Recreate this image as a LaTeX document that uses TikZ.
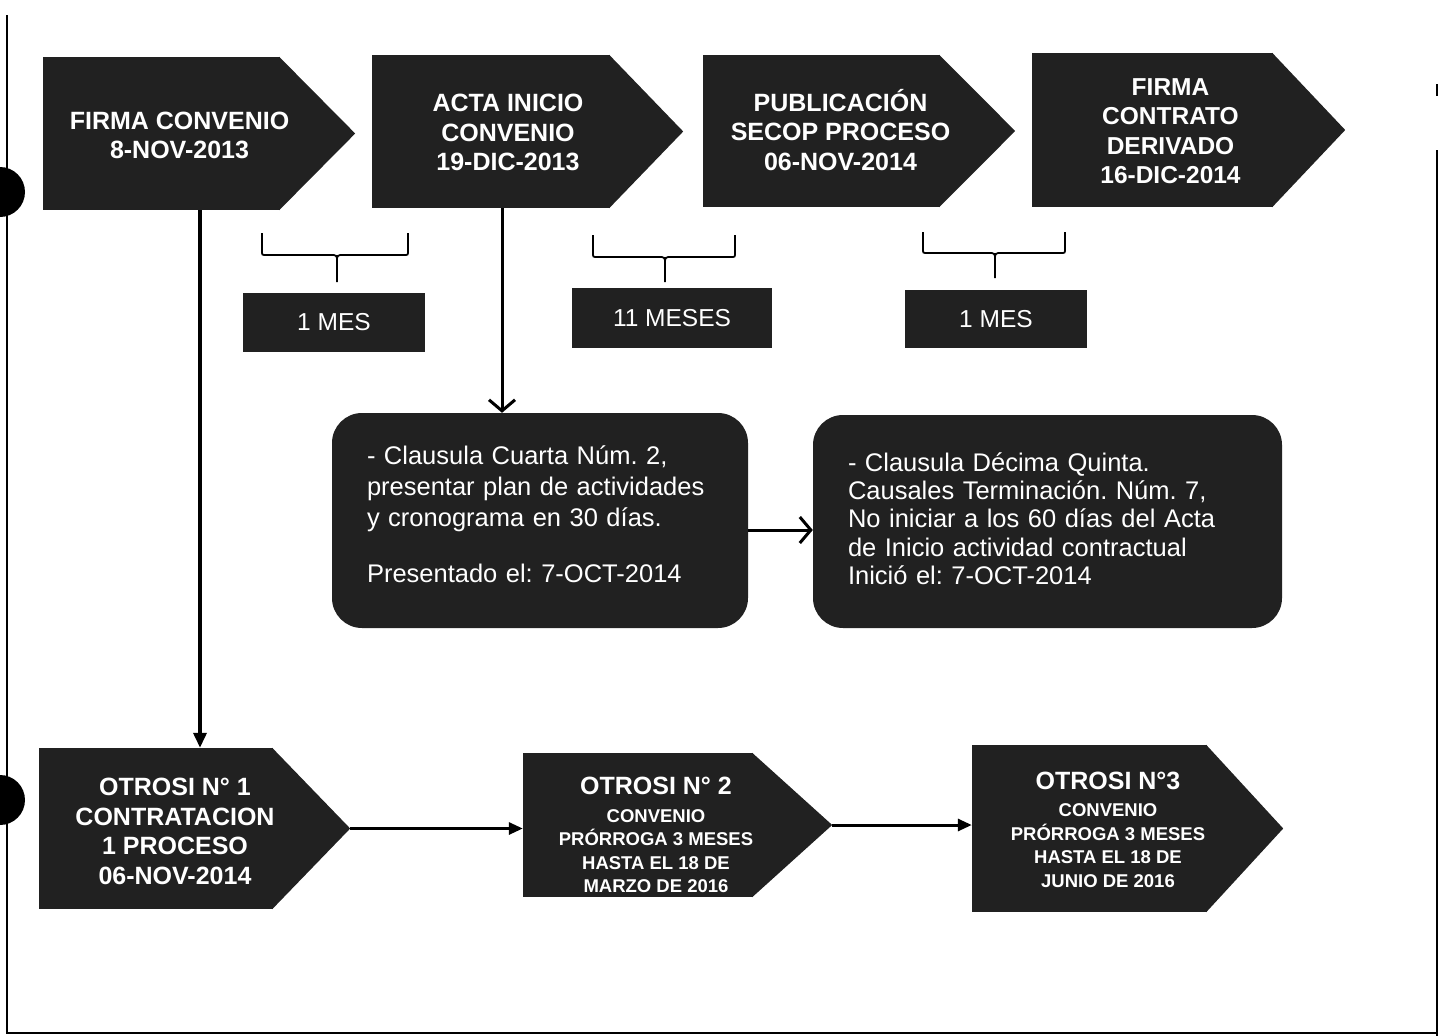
\documentclass[tikz,border=0pt]{standalone}
\usepackage{fontspec}
\setmainfont{Liberation Sans}
\usetikzlibrary{arrows.meta,calc}
\definecolor{boxgray}{gray}{0.13}
\frenchspacing
\begin{document}
\begin{tikzpicture}[x=1pt,y=-1pt,
  body/.style={fill=boxgray, draw=none, inner sep=0pt},
  btxt/.style={text=white, align=center, inner sep=0pt, font=\bfseries\fontsize{25}{29.5}\selectfont},
  stxt/.style={text=white, align=center, inner sep=0pt, font=\bfseries\fontsize{18.5}{23.5}\selectfont},
  mes/.style={fill=boxgray, inner sep=0pt, text=white, font=\fontsize{24.5}{28}\selectfont},
  rbox/.style={fill=boxgray, rounded corners=30pt, inner sep=0pt},
  rtxt/.style={text=white, align=left, inner sep=0pt},
  frame/.style={line width=1.6pt},
  brace/.style={line width=1.8pt},
  solidarrow/.style={line width=3.5pt, -{Triangle[length=15pt,width=13pt]}},
  flatarrow/.style={line width=3pt, -{Triangle[length=14pt,width=12pt]}},
  openarrow/.style={line width=3pt, -{Straight Barb[length=11pt,width=26pt,line width=3pt]}}
]
\useasboundingbox (0,0) rectangle (1438,1036);

% frame remnants
\draw[frame] (7,15) -- (7,1033) -- (1437,1033);
\draw[frame] (1437,150) -- (1437,1036);
\draw[frame] (1437,84) -- (1437,96);
\fill[black] (0,192) circle (25);
\fill[black] (0,800) circle (25);

% top row bodies
\node[body, minimum width=237, minimum height=153] (n1) at (161.5,133.5) {};
\node[body, minimum width=238, minimum height=153] (n2) at (491,131.5) {};
\node[body, minimum width=237, minimum height=152] (n3) at (821.5,131) {};
\node[body, minimum width=241, minimum height=154] (n4) at (1152.5,130) {};
\foreach \n/\t in {n1/75, n2/73, n3/75, n4/72}{
  \fill[boxgray] ([xshift=-1pt]\n.north east) -- ($(\n.east)+(\t,0)$) -- ([xshift=-1pt]\n.south east) -- cycle;
}
\node[btxt] (t1) at ($(n1.center)+(18,2)$) {FIRMA CONVENIO\\8-NOV-2013};
\node[btxt] (t2) at ($(n2.center)+(17,1)$) {ACTA INICIO\\CONVENIO\\19-DIC-2013};
\node[btxt] (t3) at ($(n3.center)+(19,-1)$) {PUBLICACIÓN\\SECOP PROCESO\\06-NOV-2014};
\node[btxt, font=\bfseries\fontsize{24.5}{29.5}\selectfont] (t4) at ($(n4.center)+(18,1)$) {FIRMA\\CONTRATO\\DERIVADO\\16-DIC-2014};

% braces
\draw[brace] (262,233) -- (262,251) .. controls (262,255) .. (266,255) -- (330,255) .. controls (337,255) .. (337,262) -- (337,282);
\draw[brace] (408,233) -- (408,251) .. controls (408,255) .. (404,255) -- (344,255) .. controls (337,255) .. (337,262);
\draw[brace] (593,235) -- (593,253) .. controls (593,257) .. (597,257) -- (658,257) .. controls (665,257) .. (665,264) -- (665,282);
\draw[brace] (735,235) -- (735,253) .. controls (735,257) .. (731,257) -- (672,257) .. controls (665,257) .. (665,264);
\draw[brace] (923,232) -- (923,249) .. controls (923,253) .. (927,253) -- (988,253) .. controls (995,253) .. (995,260) -- (995,278);
\draw[brace] (1065,232) -- (1065,249) .. controls (1065,253) .. (1061,253) -- (1002,253) .. controls (995,253) .. (995,260);

% duration boxes
\node[mes, minimum width=182, minimum height=59] (m1) at (334,322.5) {1 MES};
\node[mes, minimum width=200, minimum height=60] (m2) at (672,318) {11 MESES};
\node[mes, minimum width=182, minimum height=58] (m3) at (996,319) {1 MES};

% rounded boxes
\node[rbox, minimum width=416, minimum height=215] (A) at (540,520.5) {};
\node[rtxt, text width=346, font=\fontsize{25.5}{31}\selectfont] (At) at ($(A.center)+(0,-6)$)
  {- Clausula Cuarta Núm. 2,\\presentar plan de actividades\\y cronograma en 30 días.\\[25pt]Presentado el: 7-OCT-2014};
\node[rbox, minimum width=469, minimum height=213] (B) at (1047.5,521.5) {};
\node[rtxt, text width=399, font=\fontsize{25.5}{28.3}\selectfont] (Bt) at ($(B.center)+(0,-3)$)
  {- Clausula Décima Quinta.\\Causales Terminación. Núm. 7,\\No iniciar a los 60 días del Acta\\de Inicio actividad contractual\\Inició el: 7-OCT-2014};

% bottom row bodies
\node[body, minimum width=234, minimum height=161] (o1) at (156,828.5) {};
\node[body, minimum width=230, minimum height=144] (o2) at (638,825) {};
\node[body, minimum width=235, minimum height=167] (o3) at (1089.5,828.5) {};
\foreach \n/\t in {o1/77, o2/79, o3/76}{
  \fill[boxgray] ([xshift=-1pt]\n.north east) -- ($(\n.east)+(\t,0)$) -- ([xshift=-1pt]\n.south east) -- cycle;
}
\coordinate (o1tip) at ($(o1.east)+(77,0)$);
\coordinate (o2tip) at ($(o2.east)+(79,0)$);
\node[btxt] (u1) at ($(o1.center)+(19,3)$) {OTROSI N° 1\\CONTRATACION\\1 PROCESO\\06-NOV-2014};
\node[stxt] (u2) at ($(o2.center)+(18,10)$) {{\fontsize{25}{25}\selectfont OTROSI N° 2}\\[4pt]CONVENIO\\PRÓRROGA 3 MESES\\HASTA EL 18 DE\\MARZO DE 2016};
\node[stxt] (u3) at ($(o3.center)+(18.5,1)$) {{\fontsize{25}{25}\selectfont OTROSI N°3}\\[4pt]CONVENIO\\PRÓRROGA 3 MESES\\HASTA EL 18 DE\\JUNIO DE 2016};

% connectors
\draw[solidarrow] ([xshift=38.5pt]n1.south) -- ([xshift=38.5pt]n1.south |- o1.north);
\draw[openarrow] ([xshift=11pt]n2.south) -- ([xshift=11pt]n2.south |- A.north);
\draw[openarrow] ([yshift=-9.5pt]A.east) -- ([yshift=-9.5pt]A.east -| B.west);
\draw[flatarrow] (o1tip) -- (o1tip -| o2.west);
\draw[flatarrow] (o2tip) -- (o2tip -| o3.west);
\end{tikzpicture}
\end{document}
